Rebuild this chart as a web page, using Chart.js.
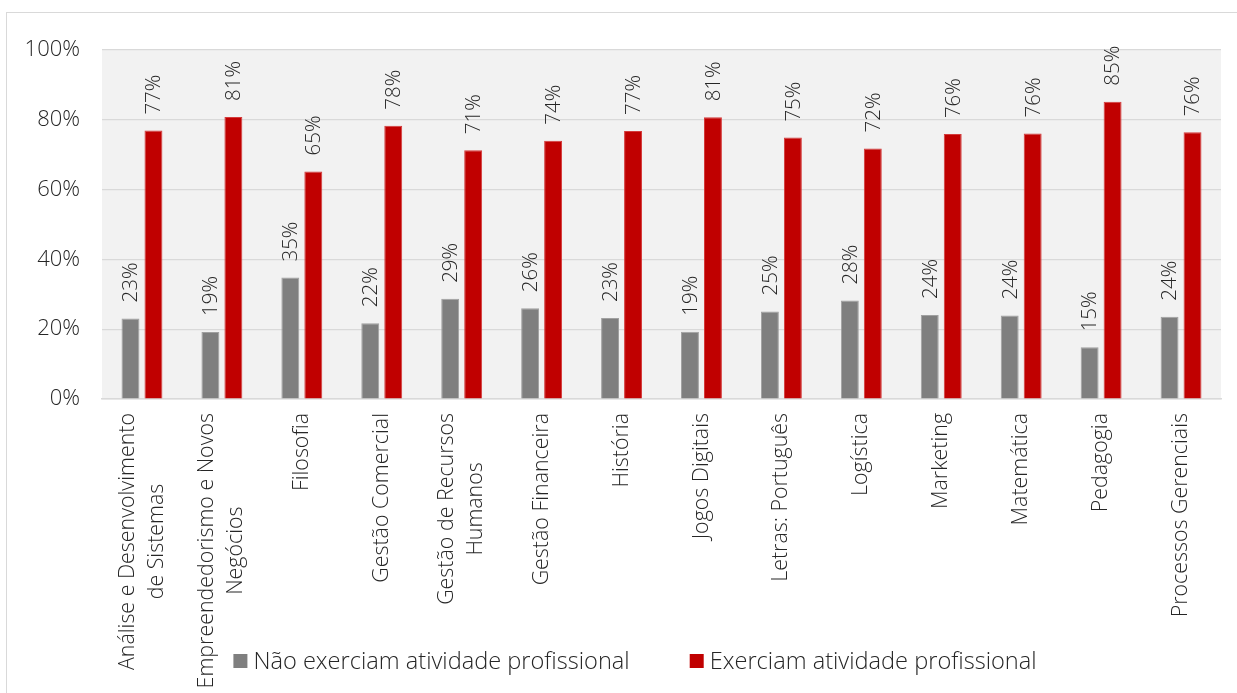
<!DOCTYPE html>
<html lang="pt">
<head>
<meta charset="UTF-8">
<title>Atividade profissional por curso</title>
<script src="https://cdn.jsdelivr.net/npm/chart.js"></script>
<style>
    html, body {
        margin: 0;
        padding: 0;
        background: #ffffff;
        overflow: hidden;
        width: 1237px;
        height: 693px;
    }
    .frame {
        position: absolute;
        left: 6px;
        top: 12px;
        width: 1260px;
        height: 700px;
        border: 1.5px solid #d9d9d9;
    }
    .chart-box {
        position: absolute;
        left: 1px;
        top: 1px;
        width: 1230px;
        height: 680px;
    }
</style>
</head>
<body>
<div class="frame">
    <div class="chart-box"><canvas id="chart"></canvas></div>
</div>
<script>
const categories = [
    ['Análise e Desenvolvimento', 'de Sistemas'],
    ['Empreendedorismo e Novos', 'Negócios'],
    'Filosofia',
    'Gestão Comercial',
    ['Gestão de Recursos', 'Humanos'],
    'Gestão Financeira',
    'História',
    'Jogos Digitais',
    'Letras: Português',
    'Logística',
    'Marketing',
    'Matemática',
    'Pedagogia',
    'Processos Gerenciais'
];
const naoExerciam = [23.1, 19.2, 34.8, 21.7, 28.7, 26.0, 23.2, 19.3, 25.1, 28.2, 24.1, 23.9, 14.8, 23.6];
const exerciam = [76.9, 80.8, 65.2, 78.3, 71.3, 74.0, 76.8, 80.7, 74.9, 71.8, 75.9, 76.1, 85.2, 76.4];
const seriesNames = ['Não exerciam atividade profissional', 'Exerciam atividade profissional'];
const yTicks = [0, 20, 40, 60, 80, 100];

const FONT = '"Open Sans", "DejaVu Sans", sans-serif';
const TEXT = '#262626';

// fundo cinza da área do gráfico
const plotBg = {
    id: 'plotBg',
    beforeDraw(chart) {
        const a = chart.chartArea, ctx = chart.ctx;
        ctx.save();
        ctx.fillStyle = '#f2f2f2';
        ctx.fillRect(a.left, a.top, a.right - a.left, a.bottom - a.top);
        ctx.restore();
    }
};

// rótulos de valor, girados
const valueLabels = {
    id: 'valueLabels',
    afterDatasetsDraw(chart) {
        const ctx = chart.ctx;
        ctx.save();
        ctx.font = '300 20.5px ' + FONT;
        ctx.fillStyle = TEXT;
        ctx.textAlign = 'left';
        ctx.textBaseline = 'middle';
        chart.data.datasets.forEach((ds, di) => {
            chart.getDatasetMeta(di).data.forEach((bar, i) => {
                ctx.save();
                ctx.translate(bar.x, bar.y - 16);
                ctx.rotate(-Math.PI / 2);
                ctx.fillText(Math.round(ds.data[i]) + '%', 0, 1);
                ctx.restore();
            });
        });
        ctx.restore();
    }
};

// rótulos das categorias, centralizados como no Excel
const catLabels = {
    id: 'catLabels',
    afterDraw(chart) {
        const ctx = chart.ctx, x = chart.scales.x;
        const top = chart.chartArea.bottom + 14;
        const lineH = 29;
        ctx.save();
        ctx.font = '300 21.4px ' + FONT;
        ctx.fillStyle = TEXT;
        ctx.textAlign = 'center';
        ctx.textBaseline = 'middle';
        categories.forEach((c, i) => {
            const lines = Array.isArray(c) ? c : [c];
            const w = Math.max(...lines.map(l => ctx.measureText(l).width));
            const cx = x.getPixelForTick(i);
            lines.forEach((l, j) => {
                ctx.save();
                ctx.translate(cx + (j - (lines.length - 1) / 2) * lineH, top + w / 2);
                ctx.rotate(-Math.PI / 2);
                ctx.fillText(l, 0, 0);
                ctx.restore();
            });
        });
        ctx.restore();
    }
};

// legenda embaixo
const bottomLegend = {
    id: 'bottomLegend',
    afterDraw(chart) {
        const ctx = chart.ctx;
        const cy = 647, box = 14, gapText = 6, gapItem = 60, center = 627;
        ctx.save();
        ctx.font = '300 23.6px ' + FONT;
        ctx.textBaseline = 'middle';
        ctx.textAlign = 'left';
        const items = chart.data.datasets.map(ds => ({label: ds.label, color: ds.backgroundColor, w: ctx.measureText(ds.label).width}));
        const total = items.reduce((s, it) => s + box + gapText + it.w, 0) + gapItem * (items.length - 1);
        let px = center - total / 2;
        items.forEach(it => {
            ctx.fillStyle = it.color;
            ctx.fillRect(px, cy - box / 2, box, box);
            px += box + gapText;
            ctx.fillStyle = TEXT;
            ctx.fillText(it.label, px, cy + 1);
            px += it.w + gapItem;
        });
        ctx.restore();
    }
};

new Chart(document.getElementById('chart'), {
    type: 'bar',
    data: {
        labels: categories,
        datasets: [
            {
                label: seriesNames[0],
                data: naoExerciam,
                backgroundColor: '#7f7f7f',
                borderColor: '#a0a0a0',
                borderWidth: 1,
                categoryPercentage: 0.575,
                barPercentage: 0.78
            },
            {
                label: seriesNames[1],
                data: exerciam,
                backgroundColor: '#c00000',
                borderColor: '#d43a3a',
                borderWidth: 1,
                categoryPercentage: 0.575,
                barPercentage: 0.78
            }
        ]
    },
    options: {
        responsive: true,
        maintainAspectRatio: false,
        animation: false,
        layout: {padding: {top: 36, right: 17, left: 0, bottom: 0}},
        plugins: {
            legend: {display: false},
            tooltip: {enabled: false}
        },
        scales: {
            x: {
                grid: {display: false},
                border: {display: true, color: '#d9d9d9', width: 1.5},
                ticks: {display: false},
                afterFit(scale) { scale.height = 295; }
            },
            y: {
                min: 0,
                max: 100,
                afterBuildTicks(scale) { scale.ticks = yTicks.map(v => ({value: v})); },
                grid: {color: '#d9d9d9', lineWidth: 1.2, drawTicks: false},
                border: {display: false},
                ticks: {
                    padding: 22,
                    color: TEXT,
                    font: {family: FONT, size: 22, weight: 300},
                    callback: v => v + '%'
                },
                afterFit(scale) { scale.width = 94; }
            }
        }
    },
    plugins: [plotBg, valueLabels, catLabels, bottomLegend]
});
</script>
</body>
</html>
